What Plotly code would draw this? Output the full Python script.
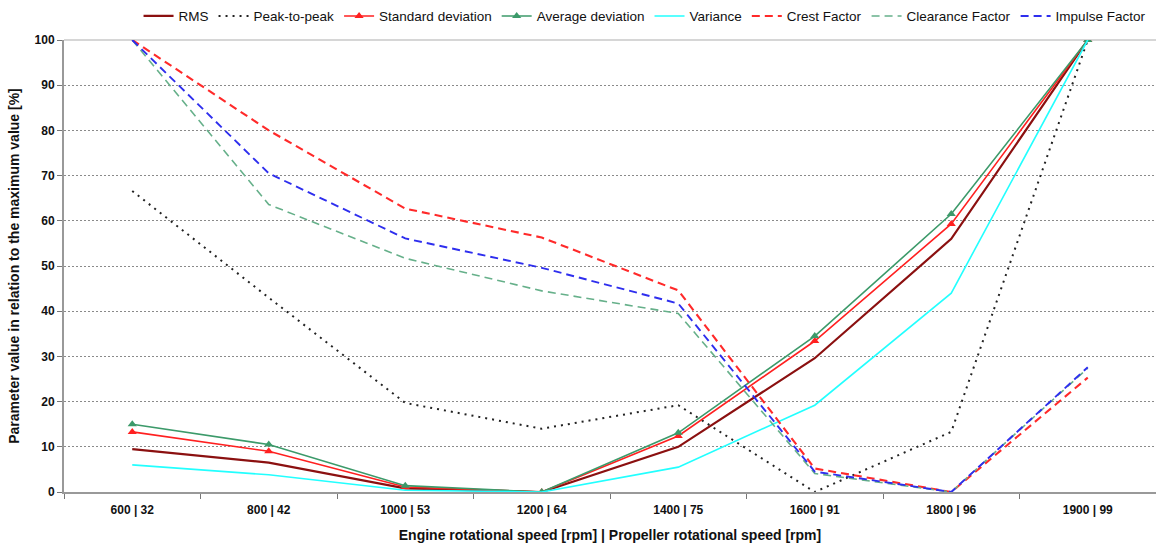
import plotly.graph_objects as go

categories = ["600 | 32", "800 | 42", "1000 | 53", "1200 | 64", "1400 | 75", "1600 | 91", "1800 | 96", "1900 | 99"]
rms = [9.5, 6.5, 0.8, 0, 10.0, 29.6, 56.0, 100]
peak_to_peak = [66.6, 43.0, 19.7, 14.0, 19.2, 0, 13.3, 100]
std_dev = [13.3, 9.0, 1.1, 0, 12.4, 33.4, 59.3, 100]
avg_dev = [15.0, 10.5, 1.4, 0, 13.1, 34.5, 61.5, 100]
variance = [6.0, 3.8, 0.4, 0, 5.5, 19.2, 44.0, 100]
crest = [100, 80.0, 62.7, 56.3, 44.6, 5.2, 0, 25.3]
clearance = [100, 63.6, 51.7, 44.5, 39.5, 4.1, 0, 27.4]
impulse = [100, 70.5, 56.1, 49.6, 41.7, 4.5, 0, 27.6]

series = [
    ("RMS", rms, dict(color="#8B1010", width=2.2), None),
    ("Peak-to-peak", peak_to_peak, dict(color="#222222", width=2, dash="2px,5px"), None),
    ("Standard deviation", std_dev, dict(color="#FF2020", width=1.6), "triangle-up"),
    ("Average deviation", avg_dev, dict(color="#3C9A6A", width=1.6), "triangle-up"),
    ("Variance", variance, dict(color="#22FFFF", width=1.6), None),
    ("Crest Factor", crest, dict(color="#FF2A2A", width=2.1, dash="8px,5px"), None),
    ("Clearance Factor", clearance, dict(color="#66B08A", width=1.6, dash="8px,5px"), None),
    ("Impulse Factor", impulse, dict(color="#2E2EEE", width=1.9, dash="8px,5px"), None),
]

fig = go.Figure()
for name, vals, line, sym in series:
    if sym:
        fig.add_trace(go.Scatter(x=categories, y=vals, name=name, mode="lines+markers",
                                 line=line, marker=dict(symbol=sym, size=8, color=line["color"])))
    else:
        fig.add_trace(go.Scatter(x=categories, y=vals, name=name, mode="lines", line=line))

fig.add_shape(type="line", xref="paper", yref="paper", x0=0, x1=1, y0=1, y1=1,
              line=dict(color="#C8C8C8", width=1.5), layer="below")

fig.update_layout(
    width=1156, height=550,
    margin=dict(l=64, r=0, t=40, b=58, autoexpand=False),
    paper_bgcolor="white", plot_bgcolor="white",
    font=dict(family="Liberation Sans, Arial, sans-serif", size=13, color="#111111"),
    legend=dict(orientation="h", x=0.995, xanchor="right", y=1.087, yanchor="top",
                font=dict(size=13.5), itemwidth=30, tracegroupgap=0, traceorder="normal"),
    xaxis=dict(
        type="category", showgrid=False, showline=True, linecolor="#999999", linewidth=2,
        ticks="outside", tickson="boundaries", ticklen=5, tickcolor="#777777",
        tickfont=dict(size=12, weight="bold"), ticklabelstandoff=6,
        title=dict(text="Engine rotational speed [rpm] | Propeller rotational speed [rpm]",
                   font=dict(size=14, weight="bold"), standoff=14),
        range=[-0.5, 7.5],
    ),
    yaxis=dict(
        range=[0, 100], dtick=10, showgrid=True, gridcolor="#8A8A8A", griddash="2px,2px", gridwidth=1,
        showline=True, linecolor="#999999", linewidth=2, ticks="outside", ticklen=5,
        tickcolor="#777777", zeroline=False,
        tickfont=dict(size=12, weight="bold"),
        title=dict(text="Parameter value in relation to the maximum value [%]",
                   font=dict(size=14, weight="bold"), standoff=12),
    ),
)

fig.write_html("out.html")
